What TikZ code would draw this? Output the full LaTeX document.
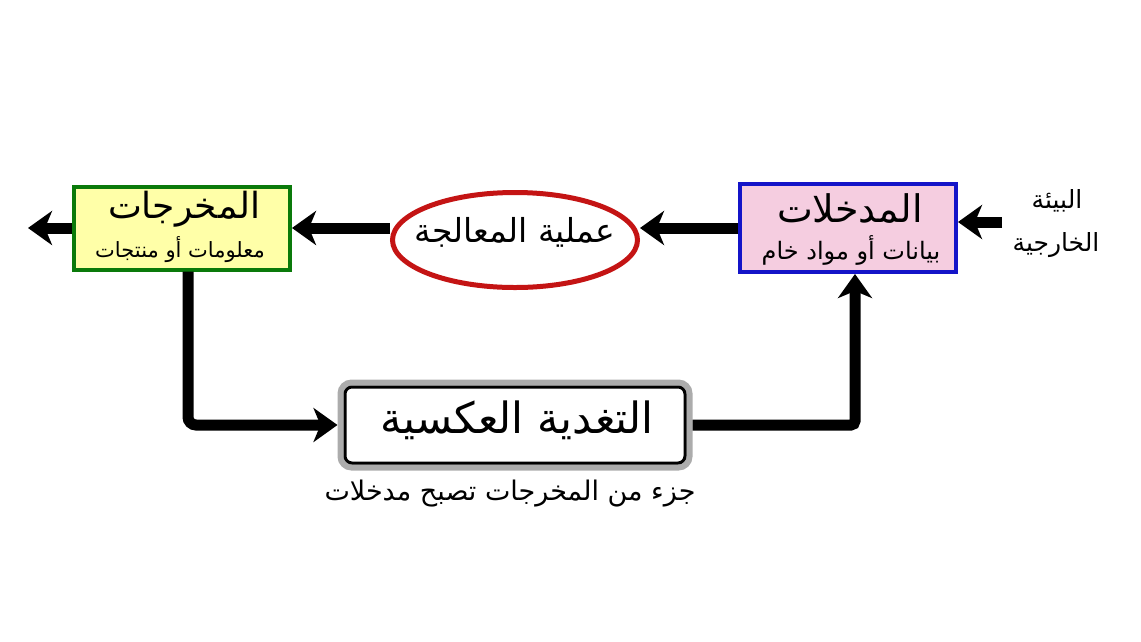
\documentclass[tikz,border=0pt]{standalone}
\usepackage{fontspec}
\newfontfamily\arabicfont[Script=Arabic]{DejaVu Sans}
\TeXXeTstate=1
\usetikzlibrary{arrows.meta,shapes.geometric,calc}
\definecolor{inpink}{HTML}{F5CDE0}
\definecolor{inblue}{HTML}{1414C8}
\definecolor{outyel}{HTML}{FFFFA8}
\definecolor{outgreen}{HTML}{0A7A0A}
\definecolor{procred}{HTML}{C41414}
\tikzset{
  arr/.style={line width=11pt,draw=black,-{Stealth[length=24pt,width=34pt,inset=7pt]}},
  boxbase/.style={rectangle,line width=4pt,minimum width=216pt,minimum height=88pt,inner sep=0pt},
  inbox/.style={boxbase,draw=inblue,fill=inpink,minimum height=88pt},
  outbox/.style={boxbase,draw=outgreen,fill=outyel,minimum height=83pt},
  procell/.style={ellipse,draw=procred,fill=white,line width=5pt,minimum width=245pt,minimum height=95pt,inner sep=0pt},
  fbbox/.style={rectangle,rounded corners=7pt,draw=black,fill=white,line width=3pt,minimum width=340pt,minimum height=76pt,inner sep=0pt},
  fbrim/.style={rectangle,rounded corners=11pt,draw=gray!65,line width=6pt,minimum width=349pt,minimum height=85pt,inner sep=0pt},
  txt/.style={font=\arabicfont,inner sep=0pt},
}
\newcommand\fsz[1]{\fontsize{#1}{#1}\selectfont}
\begin{document}
\begin{tikzpicture}[x=1pt,y=-1pt]
\useasboundingbox (0,0) rectangle (1141,641);
% boxes
\node[inbox] (in) at (848,228) {};
\node[txt] (inT) at (850,209) {\fsz{38}\beginR المدخلات\endR};
\node[txt] (inS) at (851,250) {\fsz{24}\beginR بيانات أو مواد خام\endR};
\node[procell] (proc) at (515,240) {};
\node[txt] (procT) at (515,232) {\fsz{33}\beginR عملية المعالجة\endR};
\node[outbox] (out) at (182,228) {};
\node[txt] (outT) at (184,209) {\fsz{36}\beginR المخرجات\endR};
\node[txt] (outS) at (180,250) {\fsz{21}\beginR معلومات أو منتجات\endR};
\node[fbrim] (fbr) at (515,425) {};
\node[fbbox] (fb) at (515,425) {};
\node[txt] (fbT) at (517,420) {\fsz{43}\beginR التغدية العكسية\endR};
\node[txt] (cap) at (510,494) {\fsz{27}\beginR جزء من المخرجات تصبح مدخلات\endR};
\node[txt] (env1) at (1057,201) {\fsz{25}\beginR البيئة\endR};
\node[txt] (env2) at (1056,245) {\fsz{25}\beginR الخارجية\endR};
% connectors
\coordinate (envA) at (1002,222);
\coordinate (exitL) at (28,228);
\draw[arr] (envA) -- (in.east |- envA);
\draw[arr] (in.west) -- (proc.east |- in.west);
\draw[arr] (proc.west |- out.east) -- (out.east);
\draw[arr] (out.west) -- (exitL);
\draw[arr,rounded corners=8pt] ([xshift=6pt]out.south) |- (fbr.west);
\draw[arr,rounded corners=4pt] (fbr.east) -| ([xshift=7pt]in.south);
\end{tikzpicture}
\end{document}
